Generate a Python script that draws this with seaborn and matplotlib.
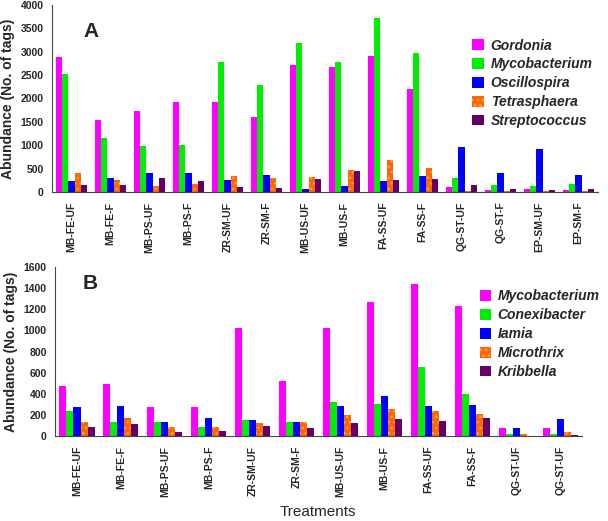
import matplotlib
matplotlib.use("Agg")
import matplotlib.pyplot as plt
import seaborn as sns
import pandas as pd
from matplotlib.ticker import FixedLocator
from matplotlib.patches import Patch

# ---------------- data ----------------
cats_a = ["MB-FE-UF", "MB-FE-F", "MB-PS-UF", "MB-PS-F", "ZR-SM-UF", "ZR-SM-F",
          "MB-US-UF", "MB-US-F", "FA-SS-UF", "FA-SS-F", "QG-ST-UF", "QG-ST-F",
          "EP-SM-UF", "EP-SM-F"]
series_a = ["Gordonia", "Mycobacterium", "Oscillospira", "Tetrasphaera", "Streptococcus"]
gordonia      = [2880, 1530, 1740, 1930, 1920, 1610, 2710, 2670, 2900, 2210, 105, 50, 70, 50]
mycobacterium = [2520, 1145, 985, 1010, 2770, 2280, 3190, 2780, 3720, 2975, 305, 155, 135, 175]
oscillospira  = [225, 305, 400, 400, 260, 360, 60, 135, 240, 340, 970, 400, 915, 370]
tetrasphaera  = [400, 260, 125, 180, 340, 300, 315, 475, 685, 510, 28, 20, 20, 28]
streptococcus = [155, 155, 290, 235, 115, 95, 270, 455, 262, 275, 155, 70, 50, 62]

cats_b = ["MB-FE-UF", "MB-FE-F", "MB-PS-UF", "MB-PS-F", "ZR-SM-UF", "ZR-SM-F",
          "MB-US-UF", "MB-US-F", "FA-SS-UF", "FA-SS-F", "QG-ST-UF", "QG-ST-UF "]
series_b = ["Mycobacterium", "Conexibacter", "Iamia", "Microthrix", "Kribbella"]
myco_b   = [475, 495, 275, 275, 1020, 525, 1020, 1265, 1440, 1235, 73, 78]
conex_b  = [240, 130, 130, 85, 155, 135, 325, 300, 655, 395, 20, 20]
iamia_b  = [275, 285, 130, 175, 148, 135, 280, 380, 280, 290, 73, 158]
micro_b  = [135, 170, 85, 88, 128, 135, 195, 260, 240, 205, 20, 35]
krib_b   = [90, 118, 35, 48, 100, 78, 120, 165, 145, 170, 3, 12]

colors = ["#FF00FF", "#00EE00", "#0000FF", "#FF6600", "#660066"]

# --------------- frames ---------------
def long_df(cats, names, vals):
    rows = []
    for name, v in zip(names, vals):
        for c, x in zip(cats, v):
            rows.append({"cat": c, "series": name, "val": x})
    return pd.DataFrame(rows)

df_a = long_df(cats_a, series_a, [gordonia, mycobacterium, oscillospira, tetrasphaera, streptococcus])
df_b = long_df(cats_b, series_b, [myco_b, conex_b, iamia_b, micro_b, krib_b])

sns.set_style("white")
plt.rcParams["font.family"] = ["Liberation Sans", "DejaVu Sans"]

fig = plt.figure(figsize=(6.08, 5.21), dpi=100)
ax_a = fig.add_axes([0.0855, 0.6315, 0.898, 0.359])
ax_b = fig.add_axes([0.0905, 0.163, 0.867, 0.3245])


def draw(ax, df, cats, names, ymax, ystep, letter, letter_xy, leg_anchor):
    sns.barplot(data=df, x="cat", y="val", hue="series", order=cats, hue_order=names,
                palette=colors, width=0.8, ax=ax, saturation=1, legend=False,
                edgecolor="none", linewidth=0)
    # hatch texture for orange
    for bar in ax.containers[3]:
        bar.set_hatch("...")
        bar.set_edgecolor("#FFA060")
        bar.set_linewidth(0)
    n = len(cats)
    ax.set_xlim(-0.5, n - 0.5)
    ax.set_ylim(0, ymax)
    ax.set_yticks(range(0, ymax + 1, ystep))
    ax.set_xticks(range(n))
    ax.set_xticklabels([c.strip() for c in cats], rotation=90, fontsize=7.5, fontweight="bold")
    ax.xaxis.set_minor_locator(FixedLocator([i - 0.5 for i in range(n + 1)]))
    ax.tick_params(axis="x", which="major", length=0, pad=7)
    ax.tick_params(axis="x", which="minor", length=4, width=0.8, color="#444444", direction="out")
    ax.tick_params(axis="y", length=4, width=0.8, color="#444444", direction="out", labelsize=7.5, pad=2)
    for lab in ax.get_yticklabels():
        lab.set_fontweight("bold")
    for s in ["top", "right"]:
        ax.spines[s].set_visible(False)
    for s in ["left", "bottom"]:
        ax.spines[s].set_color("#444444")
        ax.spines[s].set_linewidth(0.8)
    ax.set_xlabel("")
    ax.set_ylabel("Abundance (No. of tags)", fontsize=10, fontweight="bold", labelpad=4)
    ax.text(letter_xy[0], letter_xy[1], letter, transform=ax.transAxes, fontsize=15,
            fontweight="bold", ha="left", va="center")
    handles = [Patch(facecolor=c, edgecolor="none") for c in colors]
    handles[3] = Patch(facecolor=colors[3], edgecolor="#FFA060", hatch="...", linewidth=0)
    ax.legend(handles, names, loc="upper left", bbox_to_anchor=leg_anchor, frameon=False,
              prop={"style": "italic", "weight": "bold", "size": 10},
              handlelength=0.8, handleheight=0.8, handletextpad=0.5, labelspacing=0.35,
              borderaxespad=0)


draw(ax_a, df_a, cats_a, series_a, 4000, 500, "A", (0.057, 0.86), (0.76, 0.85))
draw(ax_b, df_b, cats_b, series_b, 1600, 200, "B", (0.053, 0.905), (0.795, 0.9))

fig.text(0.523, 0.003, "Treatments", fontsize=11, ha="center", va="bottom")

fig.savefig("out.png", dpi=100)
